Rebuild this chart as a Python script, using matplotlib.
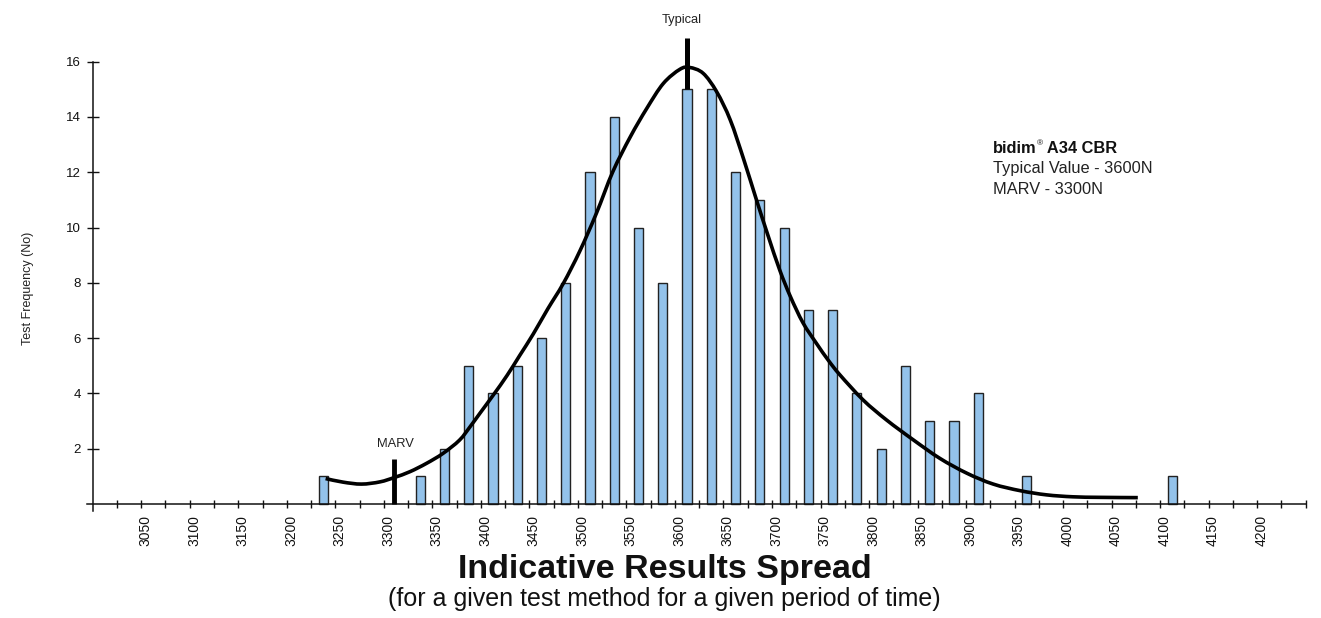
"""
Indicative results spread for bidim A34 CBR: histogram of test results
with a fitted curve, typical value and MARV markers.
"""
import numpy as np
import matplotlib
matplotlib.use("Agg")
import matplotlib.pyplot as plt
from matplotlib import rcParams
from matplotlib.path import Path
from matplotlib.patches import PathPatch
from matplotlib.transforms import ScaledTranslation

# ---------- Palette ----------
INK = "#111111"
TEXT = "#222222"
BAR_FILL = "#93c2ea"
BAR_EDGE = "#222222"

rcParams.update({
    "font.family": ["Liberation Sans", "DejaVu Sans"],
    "font.size": 10,
    "axes.edgecolor": INK,
    "xtick.color": INK,
    "ytick.color": INK,
})

# ---------- Data ----------
bin_centres = [3237.5, 3337.5, 3362.5, 3387.5, 3412.5, 3437.5, 3462.5,
               3487.5, 3512.5, 3537.5, 3562.5, 3587.5, 3612.5, 3637.5,
               3662.5, 3687.5, 3712.5, 3737.5, 3762.5, 3787.5, 3812.5,
               3837.5, 3862.5, 3887.5, 3912.5, 3962.5, 4112.5]
frequency = [1, 1, 2, 5, 4, 5, 6,
             8, 12, 14, 10, 8, 15, 15,
             12, 11, 10, 7, 7, 4, 2,
             5, 3, 3, 4, 1, 1]

# fitted curve
curve_x = [3240, 3258, 3277, 3296, 3311, 3327, 3344, 3361, 3378, 3389,
           3399, 3413, 3427, 3440, 3454, 3469, 3485, 3502, 3519, 3536,
           3554, 3571, 3588, 3605, 3615, 3629, 3643, 3657, 3671, 3684,
           3696, 3708, 3719, 3732, 3746, 3758, 3770, 3794, 3818, 3846,
           3873, 3901, 3928, 3956, 3983, 4010, 4038, 4077]
curve_y = [0.92, 0.79, 0.72, 0.80, 0.96, 1.17, 1.47, 1.83, 2.31, 2.80,
           3.28, 3.95, 4.65, 5.37, 6.15, 7.06, 7.98, 9.15, 10.51, 12.02,
           13.28, 14.31, 15.21, 15.72, 15.79, 15.58, 14.91, 13.89, 12.45, 11.0,
           9.70, 8.46, 7.50, 6.55, 5.80, 5.20, 4.67, 3.76, 3.04, 2.31,
           1.65, 1.11, 0.72, 0.48, 0.33, 0.26, 0.24, 0.23]

typical_value = 3612.5
marv_value = 3310

x_major = list(range(3050, 4201, 50))
x_minor = [v for v in range(3025, 4251, 25) if v not in x_major]
y_ticks = list(range(2, 17, 2))


def smooth_path(xs, ys):
    # Catmull-Rom through the read points, drawn as cubic Bezier segments
    pts = np.column_stack([xs, ys]).astype(float)
    verts = [pts[0]]
    codes = [Path.MOVETO]
    n = len(pts)
    for i in range(n - 1):
        p0 = pts[max(i - 1, 0)]
        p1 = pts[i]
        p2 = pts[i + 1]
        p3 = pts[min(i + 2, n - 1)]
        verts += [p1 + (p2 - p0) / 6, p2 - (p3 - p1) / 6, p2]
        codes += [Path.CURVE4] * 3
    return Path(verts, codes)


# ---------- Figure ----------
fig = plt.figure(figsize=(13.21, 6.18), dpi=100)
fig.patch.set_facecolor("white")
ax = fig.add_axes([0.06578, 0.1733, 0.9241, 0.7717])
ax.set_xlim(2994, 4252)
ax.set_ylim(-0.25, 17)

ax.bar(bin_centres, frequency, width=9.5, color=BAR_FILL,
       edgecolor=BAR_EDGE, linewidth=1.0, zorder=2)
ax.add_patch(PathPatch(smooth_path(curve_x, curve_y), facecolor="none",
                       edgecolor="black", linewidth=2.6, capstyle="butt",
                       zorder=3))

# Typical / MARV markers
ax.plot([typical_value, typical_value], [15, 16.86], color="black",
        linewidth=3.6, solid_capstyle="butt", zorder=4, clip_on=False)
ax.text(3607, 17.5, "Typical", ha="center", va="center",
        fontsize=9.3, color=TEXT)
ax.plot([marv_value, marv_value], [0, 1.63], color="black",
        linewidth=3.5, solid_capstyle="butt", zorder=4, clip_on=False)
ax.text(3311.5, 2.17, "MARV", ha="center", va="center",
        fontsize=9.3, color=TEXT)

# Product note
NOTE_FS = 11.8
t1 = ax.text(3928, 12.86, "bidim", fontsize=NOTE_FS, fontweight="bold",
             color=INK, ha="left", va="center")
t2 = ax.annotate("®", xy=(1, 0.6), xycoords=t1, fontsize=6,
                 color=INK, ha="left", va="bottom")
ax.annotate(" A34 CBR", xy=(1, 0), xycoords=(t2, t1), fontsize=NOTE_FS,
            fontweight="bold", color=INK, ha="left", va="bottom")
ax.text(3928, 12.14, "Typical Value - 3600N", fontsize=NOTE_FS,
        color=TEXT, ha="left", va="center")
ax.text(3928, 11.38, "MARV - 3300N", fontsize=NOTE_FS,
        color=TEXT, ha="left", va="center")

# ---------- Axes styling ----------
for s in ("top", "right"):
    ax.spines[s].set_visible(False)
ax.spines["left"].set_position(("data", 3000))
ax.spines["bottom"].set_position(("data", 0))
ax.spines["left"].set_bounds(-0.25, 16)
ax.spines["bottom"].set_bounds(2994, 4250)
ax.spines["left"].set_linewidth(1.1)
ax.spines["bottom"].set_linewidth(1.1)

ax.set_xticks(x_major)
ax.set_xticklabels([str(v) for v in x_major], rotation=90, fontsize=10)
ax.set_xticks(x_minor, minor=True)
ax.tick_params(axis="x", which="both", direction="inout", length=6,
               width=1.0, pad=5)
# labels sit a touch right of their ticks in the original
shift = ScaledTranslation(3 / 72, 0, fig.dpi_scale_trans)
for lbl in ax.get_xticklabels():
    lbl.set_transform(lbl.get_transform() + shift)

ax.set_yticks(y_ticks)
ax.set_yticklabels([str(v) for v in y_ticks], fontsize=9.5)
ax.tick_params(axis="y", direction="inout", length=8, width=1.0, pad=4.5)

# ---------- Titles ----------
fig.text(0.021, 0.534, "Test Frequency (No)", rotation=90, ha="center",
         va="center", fontsize=9, color=TEXT)
fig.text(0.503, 0.0785, "Indicative Results Spread", ha="center",
         va="center", fontsize=24.5, fontweight="bold", color=INK)
fig.text(0.503, 0.0300, "(for a given test method for a given period of time)",
         ha="center", va="center", fontsize=18, color=INK)

fig.savefig("out.png", dpi=100, facecolor="white")
